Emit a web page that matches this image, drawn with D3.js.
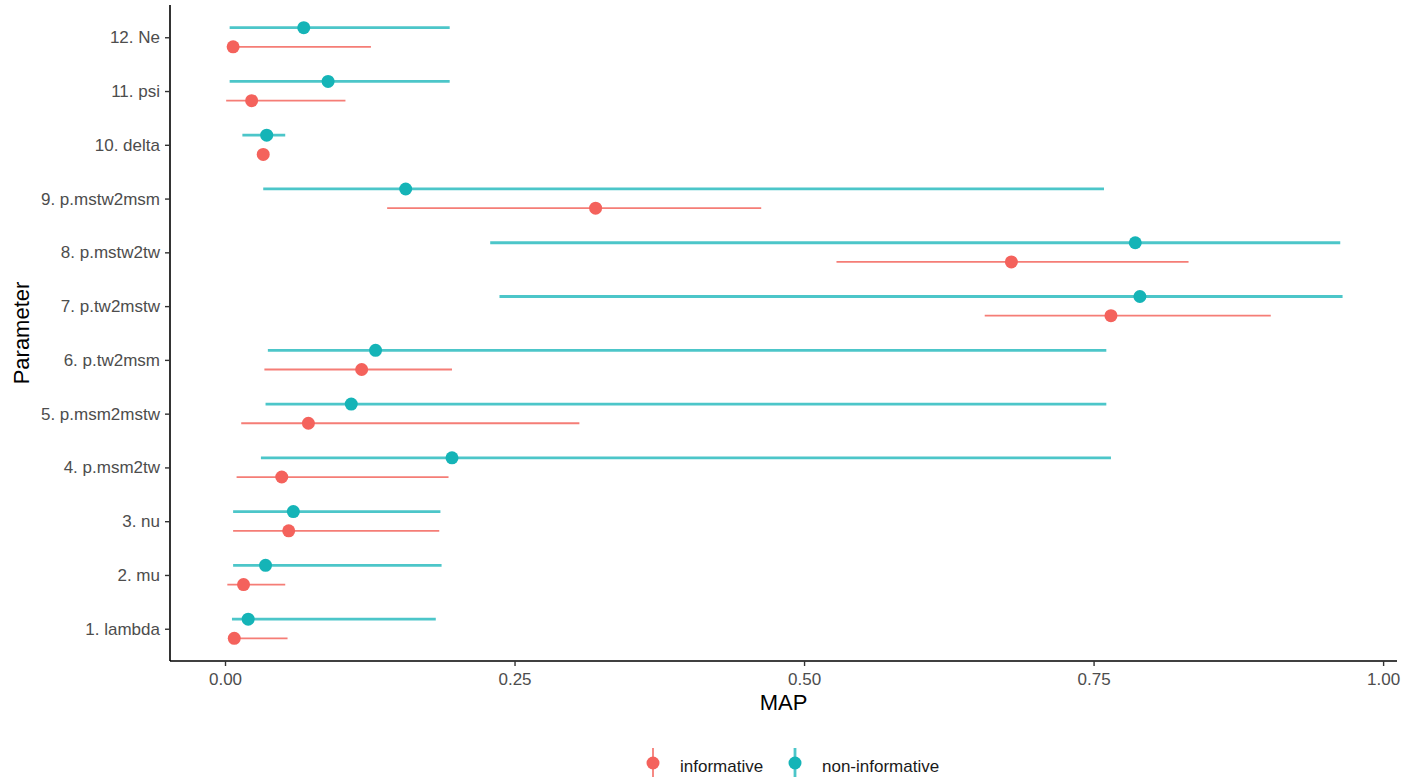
<!DOCTYPE html>
<html>
<head>
<meta charset="utf-8">
<script src="https://cdn.jsdelivr.net/npm/d3@7"></script>
<style>
  body { margin: 0; background: #fff; }
  text { font-family: "Liberation Sans", Arial, sans-serif; }
</style>
</head>
<body>
<svg width="1418" height="780"></svg>
<script>
// parameters, bottom to top
const params = ["1. lambda", "2. mu", "3. nu", "4. p.msm2tw", "5. p.msm2mstw", "6. p.tw2msm",
  "7. p.tw2mstw", "8. p.mstw2tw", "9. p.mstw2msm", "10. delta", "11. psi", "12. Ne"];

const infoMap = [0.008, 0.016, 0.055, 0.049, 0.072, 0.118, 0.765, 0.679, 0.320, 0.033, 0.023, 0.007];
const infoLo  = [0.006, 0.002, 0.007, 0.010, 0.014, 0.034, 0.656, 0.528, 0.140, 0.031, 0.001, 0.005];
const infoHi  = [0.054, 0.052, 0.185, 0.193, 0.306, 0.196, 0.903, 0.832, 0.463, 0.035, 0.104, 0.126];

const nonMap = [0.020, 0.035, 0.059, 0.196, 0.109, 0.130, 0.790, 0.786, 0.156, 0.036, 0.089, 0.068];
const nonLo  = [0.006, 0.007, 0.007, 0.031, 0.035, 0.037, 0.237, 0.229, 0.033, 0.015, 0.004, 0.004];
const nonHi  = [0.182, 0.187, 0.186, 0.765, 0.761, 0.761, 0.965, 0.963, 0.759, 0.052, 0.194, 0.194];

const xTicks = [0, 0.25, 0.5, 0.75, 1];
const groups = ["informative", "non-informative"];
const pointColors = ["#F4625C", "#15B4B7"];
const lineColors = ["#F57D76", "#4CC6C9"];
const lineWidths = [1.8, 2.8];

const svg = d3.select("svg");
const plotLeft = 170, plotRight = 1397, plotTop = 5, plotBottom = 661;

const x = d3.scaleLinear().domain([-0.0475, 1.012]).range([plotLeft, plotRight]);
const y = d3.scalePoint().domain(params).range([plotBottom, plotTop]).padding(0.6);
const pointColor = d3.scaleOrdinal(groups, pointColors);
const lineColor = d3.scaleOrdinal(groups, lineColors);
const lineWidth = d3.scaleOrdinal(groups, lineWidths);
const dodge = 9.6;

const rows = [];
params.forEach((p, i) => {
  rows.push({ p, g: "informative", lo: infoLo[i], map: infoMap[i], hi: infoHi[i], dy: dodge });
  rows.push({ p, g: "non-informative", lo: nonLo[i], map: nonMap[i], hi: nonHi[i], dy: -dodge });
});

const plot = svg.append("g");
plot.selectAll("line.range")
  .data(rows)
  .join("line")
  .attr("class", "range")
  .attr("x1", d => x(d.lo))
  .attr("x2", d => x(d.hi))
  .attr("y1", d => y(d.p) + d.dy)
  .attr("y2", d => y(d.p) + d.dy)
  .attr("stroke", d => lineColor(d.g))
  .attr("stroke-width", d => lineWidth(d.g));

plot.selectAll("circle")
  .data(rows)
  .join("circle")
  .attr("cx", d => x(d.map))
  .attr("cy", d => y(d.p) + d.dy)
  .attr("r", 6.5)
  .attr("fill", d => pointColor(d.g));

// axes
const xAxis = svg.append("g")
  .attr("transform", `translate(0,${plotBottom})`)
  .call(d3.axisBottom(x).tickValues(xTicks).tickFormat(d3.format(".2f")).tickSize(5).tickPadding(6.5));
const yAxis = svg.append("g")
  .attr("transform", `translate(${plotLeft},0)`)
  .call(d3.axisLeft(y).tickSize(5).tickPadding(5));

[xAxis, yAxis].forEach(a => {
  a.select(".domain").attr("stroke", "#000").attr("stroke-width", 1.6);
  a.selectAll(".tick line").attr("stroke", "#333").attr("stroke-width", 1.4);
  a.selectAll(".tick text").attr("fill", "#4D4D4D").style("font-size", "17px")
    .style("font-family", '"Liberation Sans", Arial, sans-serif');
});
xAxis.select(".domain").attr("d", `M${plotLeft},0H${plotRight}`);
yAxis.select(".domain").attr("d", `M0,${plotTop}V${plotBottom}`);

svg.append("text")
  .attr("x", (plotLeft + plotRight) / 2)
  .attr("y", 710)
  .attr("text-anchor", "middle")
  .style("font-size", "22px")
  .text("MAP");

svg.append("text")
  .attr("transform", `translate(29,${(plotTop + plotBottom) / 2}) rotate(-90)`)
  .attr("text-anchor", "middle")
  .style("font-size", "22px")
  .text("Parameter");

// legend
const legendX = [653, 795];
const legend = svg.append("g").selectAll("g")
  .data(groups)
  .join("g")
  .attr("transform", (d, i) => `translate(${legendX[i]},763)`);
legend.append("line")
  .attr("y1", -15).attr("y2", 14)
  .attr("stroke", d => lineColor(d))
  .attr("stroke-width", d => lineWidth(d));
legend.append("circle")
  .attr("r", 6.5)
  .attr("fill", d => pointColor(d));
legend.append("text")
  .attr("x", 27)
  .attr("y", 8.5)
  .style("font-size", "17px")
  .attr("fill", "#1a1a1a")
  .text(d => d);
</script>
</body>
</html>
